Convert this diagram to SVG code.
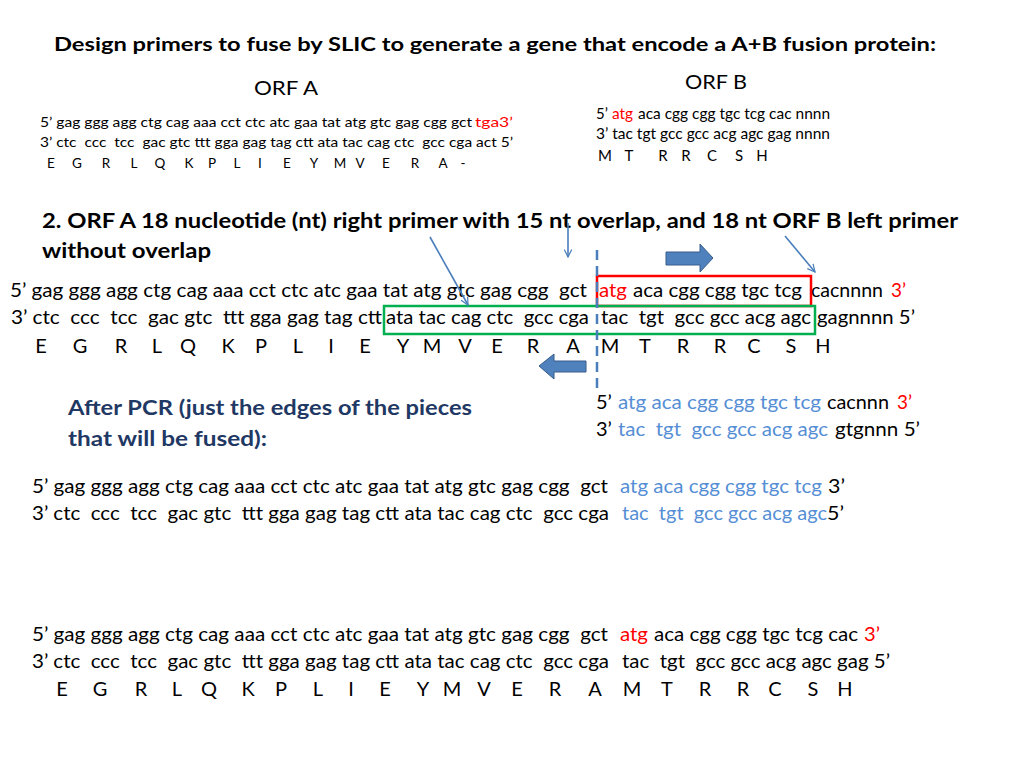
<svg xmlns="http://www.w3.org/2000/svg" width="1024" height="768" viewBox="0 0 1024 768">
<style>
text{font-family:Lato,"Liberation Sans",sans-serif;fill:#000;white-space:pre}
.b{font-weight:bold}
.red{fill:#FF0000}
.blu{fill:#558ED5}
.navy{fill:#1F3864}
.f12{font-size:13.5px}
.f14{font-size:15px}
.f20{font-size:20px}
.aa{text-anchor:middle}
.thin{stroke:#4A7EBB;stroke-width:1.6;fill:none}
.blk{fill:#4F81BD;stroke:#385D8A;stroke-width:1}
</style>
<defs>
<marker id="v" viewBox="0 0 12 12" refX="11" refY="6" markerWidth="9" markerHeight="9" orient="auto" markerUnits="userSpaceOnUse">
<path d="M1,1 L11,6 L1,11" fill="none" stroke="#4A7EBB" stroke-width="1.6"/>
</marker>
</defs>
<rect width="1024" height="768" fill="#fff"/>

<g id="title">
<text class="b" x="54" y="51" font-size="19.5" textLength="882" lengthAdjust="spacingAndGlyphs">Design primers to fuse by SLIC to generate a gene that encode a A+B fusion protein:</text>
</g>

<g id="orfA">
<text x="254" y="95" font-size="19" textLength="64" lengthAdjust="spacingAndGlyphs">ORF A</text>
<text class="f12" y="127"><tspan x="40" textLength="432" lengthAdjust="spacingAndGlyphs">5’ gag ggg agg ctg cag aaa cct ctc atc gaa tat atg gtc gag cgg gct</tspan><tspan class="red" x="475" textLength="38" lengthAdjust="spacingAndGlyphs">tga3’</tspan></text>
<text class="f12" x="40" y="147" textLength="473" lengthAdjust="spacingAndGlyphs">3’ ctc  ccc  tcc  gac gtc ttt gga gag tag ctt ata tac cag ctc  gcc cga act 5’</text>
<text class="f12 aa" y="168" x="51 77 106 134 160 189 212 237 260 287 314 340 360 386 415 443 463">EGRLQKPLIEYMVERA-</text>
</g>

<g id="orfB">
<text x="685" y="89" font-size="19" textLength="62" lengthAdjust="spacingAndGlyphs">ORF B</text>
<text class="f14" y="119"><tspan x="596">5’</tspan><tspan class="red" x="612" textLength="21" lengthAdjust="spacingAndGlyphs">atg</tspan><tspan x="638" textLength="192" lengthAdjust="spacingAndGlyphs">aca cgg cgg tgc tcg cac nnnn</tspan></text>
<text class="f14" x="596" y="139" textLength="234" lengthAdjust="spacingAndGlyphs">3’ tac tgt gcc gcc acg agc gag nnnn</text>
<text class="f14 aa" y="161" x="605 629 663 686 712 739 762">MTRRCSH</text>
</g>

<g id="heading2">
<text class="b" x="42" y="228" font-size="21" textLength="916" lengthAdjust="spacingAndGlyphs">2. ORF A 18 nucleotide (nt) right primer with 15 nt overlap, and 18 nt ORF B left primer</text>
<text class="b" x="42" y="258" font-size="21" textLength="169" lengthAdjust="spacingAndGlyphs">without overlap</text>
</g>

<g id="primer-design">
<text class="f20" y="297"><tspan x="10" textLength="577" lengthAdjust="spacingAndGlyphs">5’ gag ggg agg ctg cag aaa cct ctc atc gaa tat atg gtc gag cgg  gct</tspan><tspan class="red" x="599" textLength="28" lengthAdjust="spacingAndGlyphs">atg</tspan><tspan x="633" textLength="169" lengthAdjust="spacingAndGlyphs">aca cgg cgg tgc tcg</tspan><tspan x="811" textLength="72" lengthAdjust="spacingAndGlyphs">cacnnnn</tspan><tspan class="red" x="891" textLength="15" lengthAdjust="spacingAndGlyphs">3’</tspan></text>
<text class="f20" y="324"><tspan x="11" textLength="371" lengthAdjust="spacingAndGlyphs">3’ ctc  ccc  tcc  gac gtc  ttt gga gag tag ctt</tspan><tspan x="386" textLength="203" lengthAdjust="spacingAndGlyphs">ata tac cag ctc  gcc cga</tspan><tspan x="601" textLength="210" lengthAdjust="spacingAndGlyphs">tac  tgt  gcc gcc acg agc</tspan><tspan x="817" textLength="98" lengthAdjust="spacingAndGlyphs">gagnnnn 5’</tspan></text>
<text class="f20 aa" y="353" x="41 80 121 157 188 228 261 298 331 365 403 432 465 497 533 573 610 645 683 720 754 791 823">EGRLQKPLIEYMVERAMTRRCSH</text>
<rect id="orfB-primer-box" x="597" y="276" width="214" height="30" fill="none" stroke="#FF0000" stroke-width="2.5"/>
<rect id="orfA-primer-box" x="384" y="306" width="431" height="28" fill="none" stroke="#00B050" stroke-width="2.5"/>
</g>

<g id="after-pcr">
<text class="b navy" x="68" y="415" font-size="21" textLength="404" lengthAdjust="spacingAndGlyphs">After PCR (just the edges of the pieces</text>
<text class="b navy" x="68" y="446" font-size="21" textLength="199" lengthAdjust="spacingAndGlyphs">that will be fused):</text>
<text class="f20" y="409"><tspan x="596">5’</tspan><tspan class="blu" x="618" textLength="203" lengthAdjust="spacingAndGlyphs">atg aca cgg cgg tgc tcg</tspan><tspan x="827" textLength="62" lengthAdjust="spacingAndGlyphs">cacnnn</tspan><tspan class="red" x="897" textLength="15" lengthAdjust="spacingAndGlyphs">3’</tspan></text>
<text class="f20" y="436"><tspan x="596">3’</tspan><tspan class="blu" x="618" textLength="210" lengthAdjust="spacingAndGlyphs">tac  tgt  gcc gcc acg agc</tspan><tspan x="835" textLength="85" lengthAdjust="spacingAndGlyphs">gtgnnn 5’</tspan></text>
<text class="f20" y="493"><tspan x="32" textLength="576" lengthAdjust="spacingAndGlyphs">5’ gag ggg agg ctg cag aaa cct ctc atc gaa tat atg gtc gag cgg  gct</tspan><tspan class="blu" x="620" textLength="202" lengthAdjust="spacingAndGlyphs">atg aca cgg cgg tgc tcg</tspan><tspan x="828" textLength="17" lengthAdjust="spacingAndGlyphs">3’</tspan></text>
<text class="f20" y="520"><tspan x="32" textLength="577" lengthAdjust="spacingAndGlyphs">3’ ctc  ccc  tcc  gac gtc  ttt gga gag tag ctt ata tac cag ctc  gcc cga</tspan><tspan class="blu" x="622" textLength="205" lengthAdjust="spacingAndGlyphs">tac  tgt  gcc gcc acg agc</tspan><tspan x="827" textLength="17" lengthAdjust="spacingAndGlyphs">5’</tspan></text>
</g>

<g id="fused-product">
<text class="f20" y="641"><tspan x="32" textLength="576" lengthAdjust="spacingAndGlyphs">5’ gag ggg agg ctg cag aaa cct ctc atc gaa tat atg gtc gag cgg  gct</tspan><tspan class="red" x="620" textLength="28" lengthAdjust="spacingAndGlyphs">atg</tspan><tspan x="654" textLength="204" lengthAdjust="spacingAndGlyphs">aca cgg cgg tgc tcg cac</tspan><tspan class="red" x="864" textLength="16" lengthAdjust="spacingAndGlyphs">3’</tspan></text>
<text class="f20" y="668"><tspan x="32" textLength="577" lengthAdjust="spacingAndGlyphs">3’ ctc  ccc  tcc  gac gtc  ttt gga gag tag ctt ata tac cag ctc  gcc cga</tspan><tspan x="622" textLength="268" lengthAdjust="spacingAndGlyphs">tac  tgt  gcc gcc acg agc gag 5’</tspan></text>
<text class="f20 aa" y="696" x="62 100 141 177 209 248 281 318 351 385 423 452 484 517 555 595 632 667 705 743 775 813 845">EGRLQKPLIEYMVERAMTRRCSH</text>
</g>

<g id="connectors">
<line id="junction" x1="597" y1="250" x2="597" y2="392" stroke="#4A7EBB" stroke-width="2.5" stroke-dasharray="10 6"/>
<line class="thin" x1="430" y1="237" x2="468" y2="305" marker-end="url(#v)"/>
<line class="thin" x1="568" y1="223" x2="568" y2="257" marker-end="url(#v)"/>
<line class="thin" x1="785" y1="236" x2="815" y2="272" marker-end="url(#v)"/>
<path class="blk" d="M666,252 L700,252 L700,244 L713,258 L700,272 L700,265 L666,265 Z"/>
<path class="blk" d="M586,361 L554,361 L554,354 L539,366 L554,379 L554,372 L586,372 Z"/>
</g>
</svg>
